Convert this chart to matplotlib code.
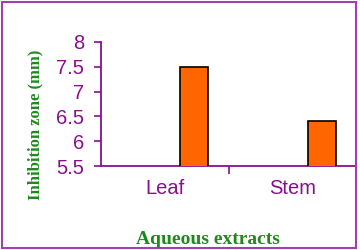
import matplotlib
matplotlib.use("Agg")
import matplotlib.pyplot as plt
from matplotlib.patches import Rectangle

categories = ["Leaf", "Stem"]
zone_mm = [7.5, 6.4]
yticks = [5.5, 6, 6.5, 7, 7.5, 8]

purple = "#88108C"
green = "#1E8A1E"
orange = "#FF6600"

fig = plt.figure(figsize=(3.6, 2.5), dpi=100)
ax = fig.add_axes([101/360, 84/250, 255/360, 124/250])

x = range(len(categories))
ax.bar([i + 0.23 for i in x], zone_mm, width=0.22, bottom=0,
       color=orange, edgecolor="black", linewidth=1.2, zorder=3)

ax.set_xlim(-0.5, 1.5)
ax.set_ylim(5.5, 8)
ax.set_yticks(yticks)
ax.set_yticklabels([f"{v:g}" for v in yticks], fontsize=14.5,
                   family="Liberation Sans", color=purple)
ax.set_xticks(list(x))
ax.set_xticklabels(categories, fontsize=14.5, family="Liberation Sans", color=purple)
ax.set_xticks([0.5], minor=True)
ax.tick_params(axis="x", which="major", length=0, pad=9)
ax.tick_params(axis="x", which="minor", length=6, width=1.2, color=purple, direction="out")
ax.tick_params(axis="y", length=5, width=1.2, color=purple, direction="out", pad=7)

for s in ["top", "right"]:
    ax.spines[s].set_visible(False)
for s in ["left", "bottom"]:
    ax.spines[s].set_color(purple)
    ax.spines[s].set_linewidth(1.3)

fig.text(35/360, 0.5, "Inhibition zone (mm)", rotation=90, ha="center", va="center",
         family="Liberation Serif", fontweight="bold", fontsize=12, color=green)
fig.text(208/360, 6/250, "Aqueous extracts", ha="center", va="baseline",
         family="Liberation Serif", fontweight="bold", fontsize=14, color=green)

fig.patches.append(Rectangle((2/360, 2/250), 354/360, 246/250, transform=fig.transFigure,
                             fill=False, edgecolor="#A040B0", linewidth=1.5))

fig.savefig("out.png", dpi=100)
